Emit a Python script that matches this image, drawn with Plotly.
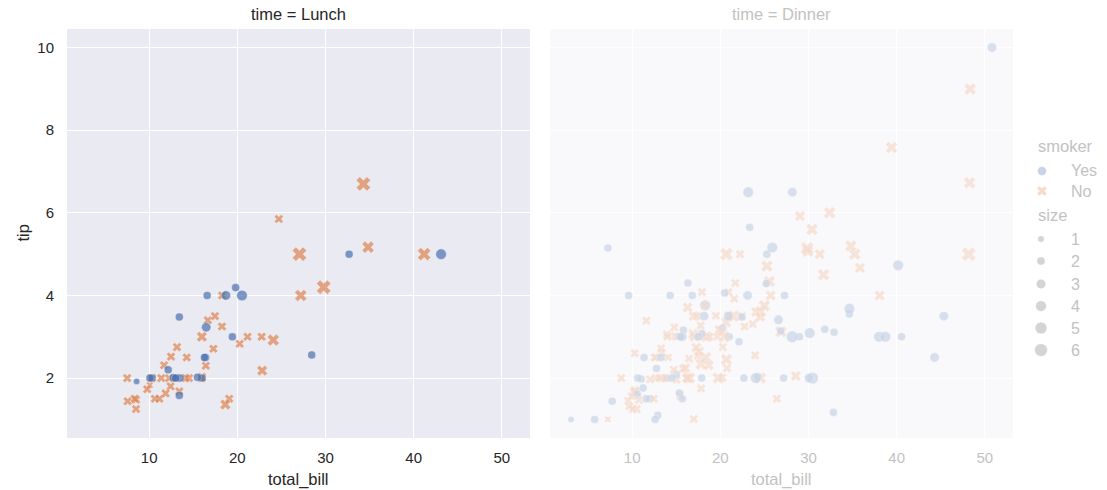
import numpy as np
import plotly.graph_objects as go

# ---- tips data: one entry per party ----
total_bill = [
    16.99, 10.34, 21.01, 23.68, 24.59, 25.29, 8.77, 26.88, 15.04, 14.78,
    10.27, 35.26, 15.42, 18.43, 14.83, 21.58, 10.33, 16.29, 16.97, 20.65,
    17.92, 20.29, 15.77, 39.42, 19.82, 17.81, 13.37, 12.69, 21.70, 19.65,
    9.55, 18.35, 15.06, 20.69, 17.78, 24.06, 16.31, 16.93, 18.69, 31.27,
    16.04, 17.46, 13.94, 9.68, 30.40, 18.29, 22.23, 32.40, 28.55, 18.04,
    12.54, 10.29, 34.81, 9.94, 25.56, 19.49, 38.01, 26.41, 11.24, 48.27,
    20.29, 13.81, 11.02, 18.29, 17.59, 20.08, 16.45, 3.07, 20.23, 15.01,
    12.02, 17.07, 26.86, 25.28, 14.73, 10.51, 17.92, 27.20, 22.76, 17.29,
    19.44, 16.66, 10.07, 32.68, 15.98, 34.83, 13.03, 18.28, 24.71, 21.16,
    28.97, 22.49, 5.75, 16.32, 22.75, 40.17, 27.28, 12.03, 21.01, 12.46,
    11.35, 15.38, 44.30, 22.42, 20.92, 15.36, 20.49, 25.21, 18.24, 14.31,
    14.00, 7.25, 38.07, 23.95, 25.71, 17.31, 29.93, 10.65, 12.43, 24.08,
    11.69, 13.42, 14.26, 15.95, 12.48, 29.80, 8.52, 14.52, 11.38, 22.82,
    19.08, 20.27, 11.17, 12.26, 18.26, 8.51, 10.33, 14.15, 16.00, 13.16,
    17.47, 34.30, 41.19, 27.05, 16.43, 8.35, 18.64, 11.87, 9.78, 7.51,
    14.07, 13.13, 17.26, 24.55, 19.77, 29.85, 48.17, 25.00, 13.39, 16.49,
    21.50, 12.66, 16.21, 13.81, 17.51, 24.52, 20.76, 31.71, 10.59, 10.63,
    50.81, 15.81, 7.25, 31.85, 16.82, 32.90, 17.89, 14.48, 9.60, 34.63,
    34.65, 23.33, 45.35, 23.17, 40.55, 20.69, 20.90, 30.46, 18.15, 23.10,
    15.69, 19.81, 28.44, 15.48, 16.58, 7.56, 10.34, 43.11, 13.00, 13.51,
    18.71, 12.74, 13.00, 16.40, 20.53, 16.47, 26.59, 38.73, 24.27, 12.76,
    30.06, 25.89, 48.33, 13.27, 28.17, 12.90, 28.15, 11.59, 7.74, 30.14,
    12.16, 13.42, 8.58, 15.98, 13.42, 16.27, 10.09, 20.45, 13.28, 22.12,
    24.01, 15.69, 11.61, 10.77, 15.53, 10.07, 12.60, 32.83, 35.83, 29.03,
    27.18, 22.67, 17.82, 18.78,
]

tip = [
    1.01, 1.66, 3.50, 3.31, 3.61, 4.71, 2.00, 3.12, 1.96, 3.23,
    1.71, 5.00, 1.57, 3.00, 3.02, 3.92, 1.67, 3.71, 3.50, 3.35,
    4.08, 2.75, 2.23, 7.58, 3.18, 2.34, 2.00, 2.00, 4.30, 3.00,
    1.45, 2.50, 3.00, 2.45, 3.27, 3.60, 2.00, 3.07, 2.31, 5.00,
    2.24, 2.54, 3.06, 1.32, 5.60, 3.00, 5.00, 6.00, 2.05, 3.00,
    2.50, 2.60, 5.20, 1.56, 4.34, 3.51, 3.00, 1.50, 1.76, 6.73,
    3.21, 2.00, 1.98, 3.76, 2.64, 3.15, 2.47, 1.00, 2.01, 2.09,
    1.97, 3.00, 3.14, 5.00, 2.20, 1.25, 3.08, 4.00, 3.00, 2.71,
    3.00, 3.40, 1.83, 5.00, 2.03, 5.17, 2.00, 4.00, 5.85, 3.00,
    3.00, 3.50, 1.00, 4.30, 3.25, 4.73, 4.00, 1.50, 3.00, 1.50,
    2.50, 3.00, 2.50, 3.48, 4.08, 1.64, 4.06, 4.29, 3.76, 4.00,
    3.00, 1.00, 4.00, 2.55, 4.00, 3.50, 5.07, 1.50, 1.80, 2.92,
    2.31, 1.68, 2.50, 2.00, 2.52, 4.20, 1.48, 2.00, 2.00, 2.18,
    1.50, 2.83, 1.50, 2.00, 3.25, 1.25, 2.00, 2.00, 2.00, 2.75,
    3.50, 6.70, 5.00, 5.00, 2.30, 1.50, 1.36, 1.63, 1.73, 2.00,
    2.50, 2.00, 2.74, 2.00, 2.00, 5.14, 5.00, 3.75, 2.61, 2.00,
    3.50, 2.50, 2.00, 2.00, 3.00, 3.48, 2.24, 4.50, 1.61, 2.00,
    10.00, 3.16, 5.15, 3.18, 4.00, 3.11, 2.00, 2.00, 4.00, 3.55,
    3.68, 5.65, 3.50, 6.50, 3.00, 5.00, 3.50, 2.00, 3.50, 4.00,
    1.50, 4.19, 2.56, 2.02, 4.00, 1.44, 2.00, 5.00, 2.00, 2.00,
    4.00, 2.01, 2.00, 2.50, 4.00, 3.23, 3.41, 3.00, 2.03, 2.23,
    2.00, 5.16, 9.00, 2.50, 6.50, 1.10, 3.00, 1.50, 1.44, 3.09,
    2.20, 3.48, 1.92, 3.00, 1.58, 2.50, 2.00, 3.00, 2.72, 2.88,
    2.00, 3.00, 3.39, 1.47, 3.00, 1.25, 1.00, 1.17, 4.67, 5.92,
    2.00, 2.00, 1.75, 3.00,
]

party_size = [
    2, 3, 3, 2, 4, 4, 2, 4, 2, 2,
    2, 4, 2, 4, 2, 2, 3, 3, 3, 3,
    2, 2, 2, 4, 2, 4, 2, 2, 2, 2,
    2, 4, 2, 4, 2, 3, 3, 3, 3, 3,
    3, 2, 2, 2, 4, 2, 2, 4, 3, 2,
    2, 2, 4, 2, 4, 2, 4, 2, 2, 4,
    2, 2, 2, 4, 3, 3, 2, 1, 2, 2,
    2, 3, 2, 2, 2, 2, 2, 4, 2, 2,
    2, 2, 1, 2, 2, 4, 2, 2, 2, 2,
    2, 2, 2, 2, 2, 4, 2, 2, 2, 2,
    2, 2, 3, 2, 2, 2, 2, 2, 2, 2,
    2, 1, 3, 2, 3, 2, 4, 2, 2, 4,
    2, 2, 2, 2, 2, 6, 2, 2, 2, 3,
    2, 2, 2, 2, 2, 2, 2, 2, 2, 2,
    2, 6, 5, 6, 2, 2, 3, 2, 2, 2,
    2, 2, 3, 4, 4, 5, 6, 4, 2, 4,
    4, 2, 3, 2, 2, 3, 2, 4, 2, 2,
    3, 2, 2, 2, 2, 2, 2, 2, 2, 2,
    4, 2, 3, 4, 2, 5, 3, 5, 3, 3,
    2, 2, 2, 2, 2, 2, 2, 4, 2, 2,
    3, 2, 2, 2, 4, 3, 3, 4, 2, 2,
    3, 4, 4, 2, 3, 2, 5, 2, 2, 4,
    2, 2, 1, 3, 2, 2, 2, 4, 2, 2,
    4, 3, 2, 2, 2, 2, 2, 2, 3, 3,
    2, 2, 2, 2,
]

Y, N = "Yes", "No"
smoker = [
    N, N, N, N, N, N, N, N, N, N,
    N, N, N, N, N, N, N, N, N, N,
    N, N, N, N, N, N, N, N, N, N,
    N, N, N, N, N, N, N, N, N, N,
    N, N, N, N, N, N, N, N, N, N,
    N, N, N, N, N, N, Y, N, Y, N,
    Y, Y, Y, Y, N, N, N, Y, N, Y,
    N, N, Y, Y, N, N, Y, N, N, N,
    Y, N, N, Y, N, N, N, N, N, N,
    Y, N, Y, Y, N, Y, Y, Y, Y, N,
    Y, Y, Y, Y, N, Y, Y, Y, N, Y,
    N, N, N, N, N, N, N, N, N, N,
    N, N, N, N, N, N, N, N, N, N,
    N, N, N, N, N, N, N, N, Y, N,
    N, N, N, N, N, N, N, N, N, N,
    N, N, N, N, N, N, N, N, N, N,
    N, N, N, N, Y, N, N, N, Y, Y,
    Y, Y, Y, Y, Y, Y, Y, Y, Y, Y,
    Y, Y, Y, Y, Y, N, Y, Y, Y, Y,
    Y, Y, Y, Y, Y, N, Y, Y, Y, Y,
    Y, Y, Y, Y, Y, Y, Y, Y, Y, Y,
    Y, Y, N, Y, Y, Y, Y, Y, Y, Y,
    Y, Y, Y, N, Y, Y, Y, N, N, Y,
    Y, Y, N, N, Y, N, Y, Y, N, N,
    Y, Y, N, N,
]

L, D = "Lunch", "Dinner"
time = [
    D, D, D, D, D, D, D, D, D, D,
    D, D, D, D, D, D, D, D, D, D,
    D, D, D, D, D, D, D, D, D, D,
    D, D, D, D, D, D, D, D, D, D,
    D, D, D, D, D, D, D, D, D, D,
    D, D, D, D, D, D, D, D, D, D,
    D, D, D, D, D, D, D, D, D, D,
    D, D, D, D, D, D, D, L, L, L,
    L, L, L, L, L, L, L, L, L, L,
    D, D, D, D, D, D, D, D, D, D,
    D, D, D, D, D, D, D, D, D, D,
    D, D, D, D, D, D, D, L, L, L,
    L, L, L, L, L, L, L, L, L, L,
    L, L, L, L, L, L, L, L, L, L,
    L, L, L, L, L, L, L, L, L, L,
    D, D, D, D, D, D, D, D, D, D,
    D, D, D, D, D, D, D, D, D, D,
    D, D, D, D, D, D, D, D, D, D,
    D, D, D, D, D, D, D, D, D, D,
    D, L, L, L, L, L, L, L, L, L,
    L, L, L, L, L, L, D, D, D, D,
    D, D, D, D, D, D, D, D, D, D,
    L, L, L, L, L, L, L, D, D, D,
    D, D, D, D, D, D, D, D, D, D,
    D, D, D, D,
]

panel_order = ["Lunch", "Dinner"]
smoker_levels = ["Yes", "No"]
size_levels = [1, 2, 3, 4, 5, 6]
x_ticks = [10, 20, 30, 40, 50]
y_ticks = [2, 4, 6, 8, 10]

# ---- styling ----
W, H = 1107, 490
FONT = "Liberation Sans, Arial, sans-serif"
INK = "#262626"
FADED_INK = "#c2c2c2"
PALETTE = {"Yes": "#4c72b0", "No": "#dd8452"}
FADED_PALETTE = {"Yes": "#c9d5e7", "No": "#f5dacb"}
SYMBOLS = {"Yes": "circle", "No": "x"}
PANEL_BG = {"Lunch": "#eaeaf2", "Dinner": "#f9f9fb"}

bill = np.asarray(total_bill, dtype=float)
tips = np.asarray(tip, dtype=float)
sizes = np.asarray(party_size)
smk = np.asarray(smoker)
tm = np.asarray(time)


def marker_px(s):
    # area scales linearly from 18 to 72 pt^2 across party sizes 1..6
    s = np.asarray(s, dtype=float)
    area = 18 + (s - 1) / (max(size_levels) - 1) * 54
    return np.sqrt(area) * 1.5


# shared data limits with 5% padding
def padded(lo, hi, frac=0.05):
    span = hi - lo
    return [lo - frac * span, hi + frac * span]


x_range = padded(bill.min(), bill.max())
y_range = padded(tips.min(), tips.max())

fig = go.Figure()


def label(text, x_px, y_px, font, xanchor="center", angle=0):
    fig.add_annotation(text=text, x=x_px / W, y=1 - y_px / H,
                       xref="paper", yref="paper", xanchor=xanchor,
                       yanchor="middle", showarrow=False, textangle=angle,
                       font=font)


# panel pixel boxes (left, right) and shared top/bottom
px_cols = {"Lunch": (67, 530), "Dinner": (550, 1013)}
top_px, bot_px = 29, 438

for i, panel in enumerate(panel_order):
    sfx = "" if i == 0 else str(i + 1)
    m = tm == panel
    pal = PALETTE if panel == "Lunch" else FADED_PALETTE
    fig.add_trace(go.Scatter(
        x=bill[m], y=tips[m], mode="markers",
        marker=dict(
            color=[pal[v] for v in smk[m]],
            symbol=[SYMBOLS[v] for v in smk[m]],
            size=marker_px(sizes[m]),
            line=dict(color="white", width=0.4),
        ),
        xaxis="x" + sfx, yaxis="y" + sfx,
        showlegend=False, hoverinfo="skip",
    ))
    ink = INK if panel == "Lunch" else FADED_INK
    l, r = px_cols[panel]
    fig.update_layout({
        "xaxis" + sfx: dict(
            domain=[l / W, r / W], range=x_range, tickvals=x_ticks,
            showgrid=True, gridcolor="white", gridwidth=1.3,
            zeroline=False, showline=False, ticks="",
            tickfont=dict(size=15, color=ink, family=FONT),
            ticklabelstandoff=9, anchor="y" + sfx, automargin=False,
        ),
        "yaxis" + sfx: dict(
            domain=[1 - bot_px / H, 1 - top_px / H], range=y_range,
            tickvals=y_ticks, showticklabels=(i == 0),
            showgrid=True, gridcolor="white", gridwidth=1.3,
            zeroline=False, showline=False, ticks="",
            tickfont=dict(size=15, color=ink, family=FONT),
            ticklabelstandoff=12, anchor="x" + sfx, automargin=False,
        ),
    })
    fig.add_shape(type="rect", xref=f"x{sfx} domain", yref=f"y{sfx} domain",
                  x0=0, x1=1, y0=0, y1=1, fillcolor=PANEL_BG[panel],
                  line=dict(width=0), layer="below")
    cx = (l + r) / 2
    f = dict(size=16.5, color=ink, family=FONT)
    label(f"time = {panel}", cx, 14, f)
    label("total_bill", cx, 479, f)

label("tip", 22, (top_px + bot_px) / 2,
      dict(size=16.5, color=INK, family=FONT), angle=-90)

# ---- legend drawn on a pixel-scaled helper axis ----
lx0 = 1020
fig.update_layout(
    xaxis3=dict(domain=[lx0 / W, 1], range=[lx0, W], visible=False,
                fixedrange=True, anchor="y3"),
    yaxis3=dict(domain=[0, 1], range=[H, 0], visible=False,
                fixedrange=True, anchor="x3"),
)
mark_x, text_x = 1042, 1069
smoker_rows = [171, 191]
size_rows = [239, 261, 284, 306, 328, 350]
fig.add_trace(go.Scatter(
    x=[mark_x] * len(smoker_levels), y=smoker_rows, mode="markers",
    marker=dict(color=[FADED_PALETTE[v] for v in smoker_levels],
                symbol=[SYMBOLS[v] for v in smoker_levels],
                size=9, line=dict(color="white", width=0.4)),
    xaxis="x3", yaxis="y3", showlegend=False, hoverinfo="skip",
))
fig.add_trace(go.Scatter(
    x=[mark_x - 1] * len(size_levels), y=size_rows, mode="markers",
    marker=dict(color="#c2c2c2", symbol="circle", size=marker_px(size_levels),
                line=dict(color="white", width=0.4)),
    xaxis="x3", yaxis="y3", showlegend=False, hoverinfo="skip",
))
legend_font = dict(size=16, color=FADED_INK, family=FONT)
title_font = dict(size=16.5, color=FADED_INK, family=FONT)
label("smoker", 1036, 146, title_font, xanchor="left")
for lab, yy in zip(smoker_levels, smoker_rows):
    label(lab, text_x, yy, legend_font, xanchor="left")
label("size", 1036, 215, title_font, xanchor="left")
for lab, yy in zip(size_levels, size_rows):
    label(str(lab), text_x, yy, legend_font, xanchor="left")

fig.update_layout(
    width=W, height=H, margin=dict(l=0, r=0, t=0, b=0),
    paper_bgcolor="white", plot_bgcolor="rgba(0,0,0,0)",
    font=dict(family=FONT, color=INK),
    showlegend=False,
)

fig.write_html("out.html")
